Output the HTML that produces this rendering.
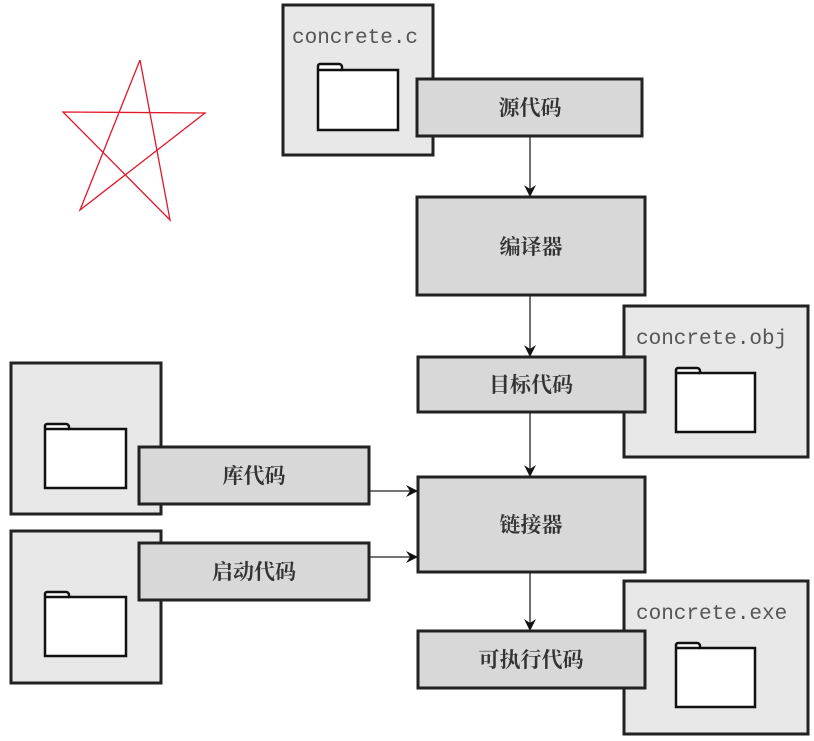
<!DOCTYPE html>
<html><head><meta charset="utf-8"><style>
body{margin:0;background:#fff;width:814px;height:736px;overflow:hidden}
</style></head><body>
<svg width="814" height="736" xmlns="http://www.w3.org/2000/svg" font-family="'Liberation Serif','Noto Serif CJK SC',serif">
<defs><marker id="a" markerWidth="12" markerHeight="12" refX="11" refY="6" orient="auto" markerUnits="userSpaceOnUse"><path d="M0,0 L12,6 L0,12 L4,6 Z" fill="#111"/></marker></defs>
<polyline points="140,60 80,210 205,113 63,112 170,220 140,60" fill="none" stroke="#e0182a" stroke-width="1.3"/>
<g stroke="#222" stroke-width="3">
<rect x="283" y="5" width="150" height="150" fill="#e8e8e8"/>
<rect x="624" y="306" width="184" height="151" fill="#e8e8e8"/>
<rect x="624" y="581" width="184" height="153" fill="#e8e8e8"/>
<rect x="11" y="363" width="150" height="151" fill="#e8e8e8"/>
<rect x="11" y="531" width="150" height="152" fill="#e8e8e8"/>
</g>
<g font-family="'Liberation Mono',monospace" font-size="21" fill="#555">
<text x="292" y="43">concrete.c</text>
<text x="636" y="344">concrete.obj</text>
<text x="636" y="619">concrete.exe</text>
</g>
<g stroke="#111" stroke-width="2.5" fill="#fff">
<path d="M318,130 V66 a2,2 0 0 1 2,-2 H339 a3,3 0 0 1 3,3 V70 H398 V130 Z"/>
<path d="M318,70 H342"/>
<path d="M676,432 V370 a2,2 0 0 1 2,-2 H697 a3,3 0 0 1 3,3 V373 H755 V432 Z"/>
<path d="M676,373 H700"/>
<path d="M676,707 V645 a2,2 0 0 1 2,-2 H697 a3,3 0 0 1 3,3 V648 H755 V707 Z"/>
<path d="M676,648 H700"/>
<path d="M45,488 V426 a2,2 0 0 1 2,-2 H66 a3,3 0 0 1 3,3 V429 H126 V488 Z"/>
<path d="M45,429 H69"/>
<path d="M45,656 V594 a2,2 0 0 1 2,-2 H66 a3,3 0 0 1 3,3 V597 H126 V656 Z"/>
<path d="M45,597 H69"/>
</g>
<g stroke="#222" stroke-width="1.3" marker-end="url(#a)">
<line x1="530" y1="136" x2="530" y2="196"/>
<line x1="530" y1="295" x2="530" y2="356"/>
<line x1="530" y1="412" x2="530" y2="476"/>
<line x1="530" y1="572" x2="530" y2="630"/>
<line x1="369" y1="491" x2="417" y2="491"/>
<line x1="369" y1="557" x2="417" y2="557"/>
</g>
<g stroke="#222" stroke-width="3" fill="#d8d8d8">
<rect x="417" y="79" width="225" height="57"/>
<rect x="417" y="197" width="228" height="98"/>
<rect x="418" y="357" width="227" height="55"/>
<rect x="418" y="477" width="227" height="95"/>
<rect x="418" y="631" width="227" height="57"/>
<rect x="139" y="447" width="230" height="57"/>
<rect x="139" y="543" width="230" height="57"/>
</g>
<g font-size="21" fill="#333" text-anchor="middle" font-weight="bold">
<text x="530" y="115">源代码</text>
<text x="531" y="254">编译器</text>
<text x="531" y="392">目标代码</text>
<text x="531" y="532">链接器</text>
<text x="531" y="667">可执行代码</text>
<text x="254" y="483">库代码</text>
<text x="254" y="579">启动代码</text>
</g>
</svg>
</body></html>
